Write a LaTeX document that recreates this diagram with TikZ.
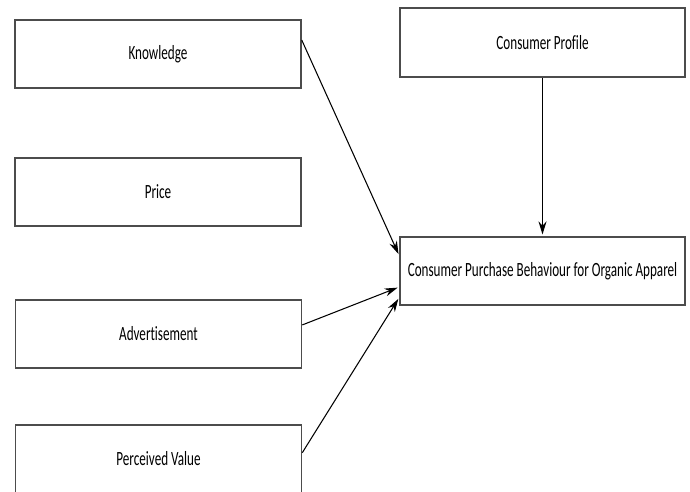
\documentclass[tikz,border=0pt]{standalone}
\usepackage{fontspec}
\setmainfont{Carlito}[FakeStretch=0.65, Ligatures=NoCommon]
\usetikzlibrary{positioning, arrows.meta, calc}

\begin{document}
\begin{tikzpicture}[
			x=0.02cm,
			y=-0.02cm,
			shorten >=1pt,
			factor/.style={
				draw=black!70,
				rectangle,
				line width=0.9pt,
				inner xsep=2pt,
				minimum width=5.72cm,
				minimum height=1.36cm,
				fill=white,
				font=\fontsize{11.5}{13}\selectfont
			},
			every edge/.style={
				draw=black,
				-{Stealth[length=2.6mm,width=1.6mm]},
				line width=0.6pt
			}
			]
			\useasboundingbox (0,0) rectangle (690,492);
			% Factors
			\node[factor] (knowledge) at (158,54) {Knowledge};
			\node[factor] (price) at (158,192) {Price};
			\node[factor] (advert) at (158.5,334) {Advertisement};
			\node[factor] (perceived) at (158.5,459) {Perceived Value};
			\node[factor, minimum height=1.38cm, minimum width=5.7cm] (profile) at (542.5,42.5) {Consumer Profile};
			\node[factor, minimum width=5.7cm] (behaviour) at (542.5,271) {Consumer Purchase Behaviour for Organic Apparel};
			% Anchor points on the box sides
			\coordinate (k out) at ($(knowledge.north east)!0.3!(knowledge.south east)$);
			\coordinate (a out) at ($(advert.north east)!0.37!(advert.south east)$);
			\coordinate (p out) at ($(perceived.north east)!0.41!(perceived.south east)$);
			\coordinate (k in) at ($(behaviour.north west)!0.28!(behaviour.south west)$);
			\coordinate (a in) at ($(behaviour.north west)!0.73!(behaviour.south west)$);
			\coordinate (p in) at ($(behaviour.north west)!0.88!(behaviour.south west)$);
			% Links
			\path (k out) edge (k in)
				(a out) edge (a in)
				(p out) edge (p in)
				(profile) edge (behaviour);
		\end{tikzpicture}
\end{document}
